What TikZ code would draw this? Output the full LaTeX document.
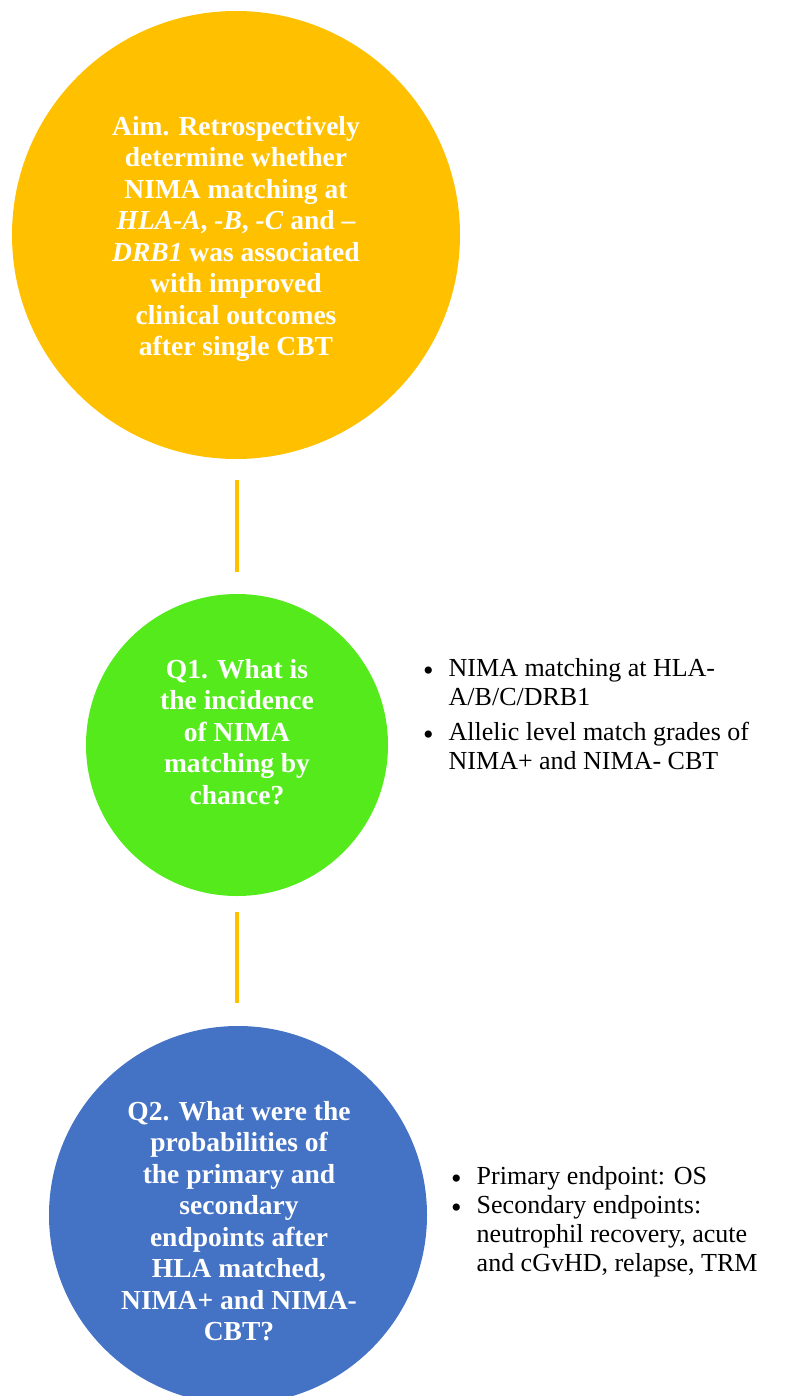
\documentclass[tikz,border=0pt]{standalone}
\usepackage{fontspec}
\setmainfont{Liberation Serif}
\definecolor{aimorange}{HTML}{FFC000}
\definecolor{qgreen}{HTML}{55EA1C}
\definecolor{qblue}{HTML}{4472C4}
\newcommand{\blt}{{\fontsize{30}{0}\selectfont\raisebox{-4pt}{\textbullet}}}
\begin{document}
\begin{tikzpicture}[x=1pt,y=-1pt,
  bubble/.style={circle,inner sep=0pt,text=white,align=center,
    font=\fontsize{27.5}{31.5}\selectfont\bfseries},
  link/.style={draw=aimorange,line width=4pt},
  bullets/.style={anchor=north west,inner sep=0pt,align=left,
    font=\fontsize{26}{29}\selectfont}]
\useasboundingbox (0,0) rectangle (784,1396);
\clip (0,0) rectangle (784,1396);

% aim circle
\fill[aimorange] (236,235) circle (224);
\node[bubble] (aim) at (236,239) {Aim. Retrospectively\\determine whether\\NIMA matching at\\\textit{HLA-A}, \textit{-B}, \textit{-C} and --\\\textit{DRB1} was associated\\with improved\\clinical outcomes\\after single CBT};

% question 1
\fill[qgreen] (237,745) circle (151);
\node[bubble] (q1) at (237,732) {Q1. What is\\the incidence\\of NIMA\\matching by\\chance?};

% question 2
\fill[qblue] (238,1215) circle (189);
\node[bubble] (q2) at (239,1221) {Q2. What were the\\probabilities of\\the primary and\\secondary\\endpoints after\\HLA matched,\\NIMA+ and NIMA-\\CBT?};

% connectors
\coordinate (l1a) at (237,480);
\coordinate (l1b) at (237,572);
\coordinate (l2a) at (237,912);
\coordinate (l2b) at (237,1003);
\draw[link] (l1a) -- (l1b);
\draw[link] (l2a) -- (l2b);

% bullet lists
\node[bullets] (b1) at (423,656) {%
\begin{tabular}{@{}l@{\hspace{15pt}}l@{}}
\blt & NIMA matching at HLA-\\
 & A/B/C/DRB1\\[6pt]
\blt & Allelic level match grades of\\
 & NIMA+ and NIMA- CBT
\end{tabular}};
\node[bullets] (b2) at (451,1164) {%
\begin{tabular}{@{}l@{\hspace{15pt}}l@{}}
\blt & Primary endpoint: OS\\
\blt & Secondary endpoints:\\
 & neutrophil recovery, acute\\
 & and cGvHD, relapse, TRM
\end{tabular}};
\end{tikzpicture}
\end{document}
